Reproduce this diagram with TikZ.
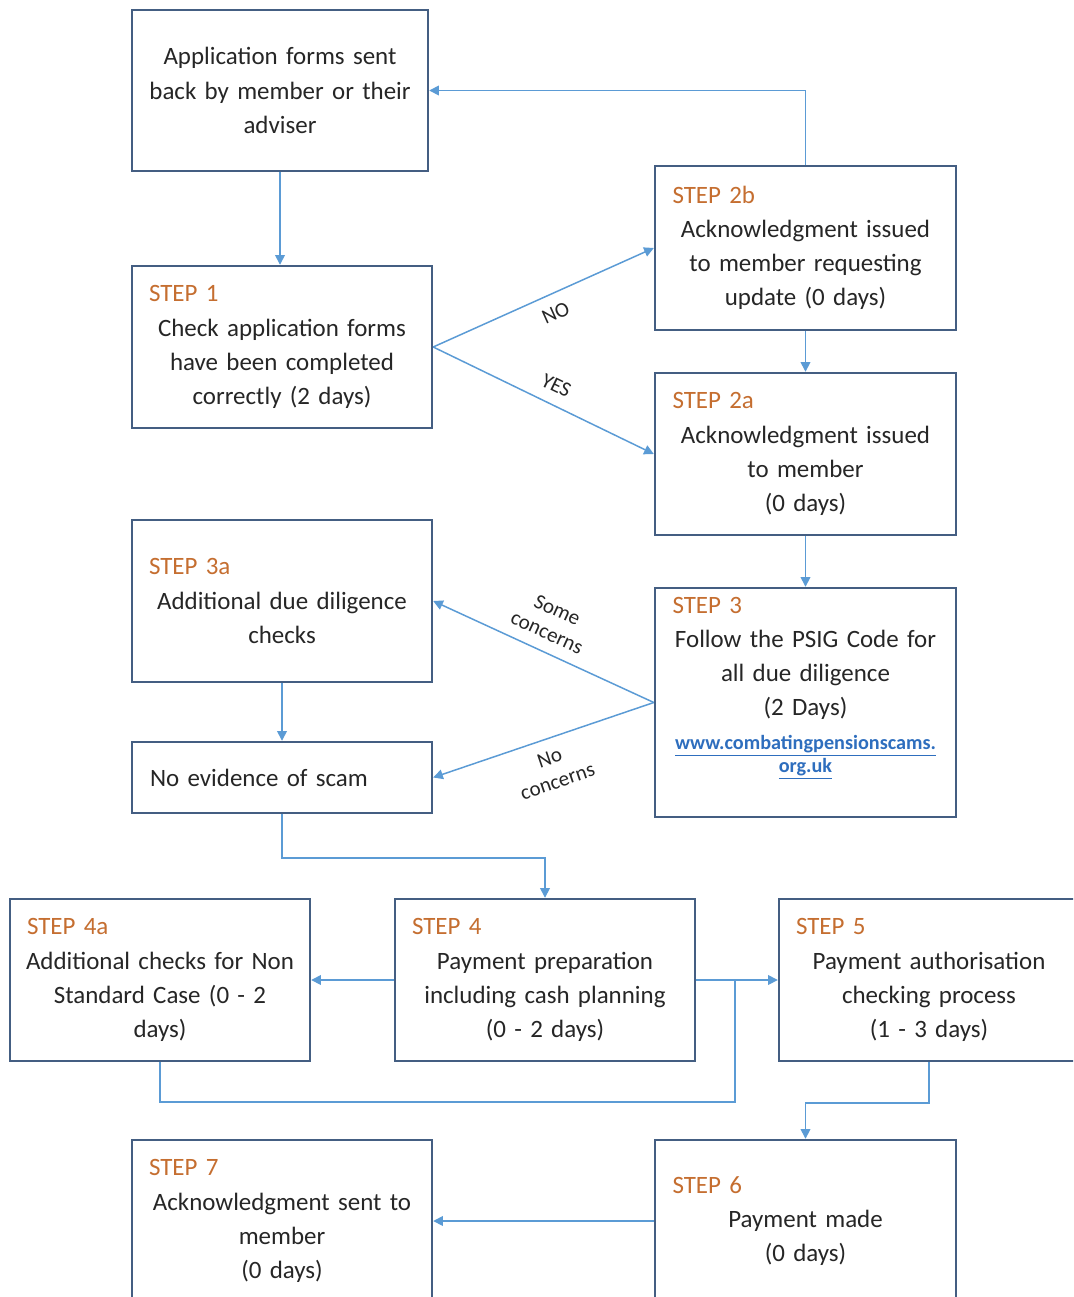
\documentclass[tikz,border=0pt]{standalone}
\usepackage{fontspec}
\setmainfont{Carlito}
\usepackage{xcolor}
\usetikzlibrary{arrows.meta}
\definecolor{boxblue}{RGB}{68,94,130}
\definecolor{arrowblue}{RGB}{91,155,213}
\definecolor{steporange}{RGB}{197,110,48}
\definecolor{linkblue}{RGB}{46,110,190}
\newcommand{\steplab}[1]{\makebox[5.6cm][l]{\hspace*{0.14cm}\color{steporange}#1}}

\begin{document}
\begin{tikzpicture}[x=0.02cm, y=-0.02cm,
  stepbox/.style={draw=boxblue, line width=1.4pt, fill=white, rectangle, minimum width=6cm, minimum height=3.24cm, text width=5.6cm, align=center, inner sep=0pt, font=\fontsize{14.2}{19.4}\selectfont, text=black!85},
  flow/.style={draw=arrowblue, line width=0.85pt, -{Triangle[length=5.5pt,width=5.5pt]}},
  lab/.style={font=\fontsize{12}{14}\selectfont, text=black!85, align=center, inner sep=6.5pt}]
\useasboundingbox (0,0) rectangle (1073,1297);
\clip (0,0) rectangle (1073,1297);
\node[stepbox, minimum width=5.92cm, minimum height=3.22cm] (app) at (280,90.5) {Application forms sent\\back by member or their\\adviser};
\node[stepbox] (step1) at (282,347) {\steplab{STEP 1}\\Check application forms\\have been completed\\correctly (2 days)};
\node[stepbox, minimum width=6.02cm, minimum height=3.28cm] (step2b) at (805.5,248) {\steplab{STEP 2b}\\Acknowledgment issued\\to member requesting\\update (0 days)};
\node[stepbox, minimum width=6.02cm] (step2a) at (805.5,454) {\steplab{STEP 2a}\\Acknowledgment issued\\to member\\(0 days)};
\node[stepbox] (step3a) at (282,601) {\steplab{STEP 3a}\\Additional due diligence\\checks};
\node[stepbox, minimum height=1.42cm, align=left] (noscam) at (282,777.5) {\hspace*{0.16cm}No evidence of scam};
\node[stepbox, minimum width=6.02cm, minimum height=4.58cm] (step3) at (805.5,702.5) {\steplab{STEP 3}\\Follow the PSIG Code for\\all due diligence\\(2 Days)\\[6pt]{\fontsize{11.5}{13}\selectfont\bfseries\color{linkblue}\underline{www.combatingpensionscams.}\\[-6pt]\underline{org.uk}}\par\vspace{16pt}};
\node[stepbox] (step4a) at (160,980) {\steplab{STEP 4a}\\Additional checks for Non\\Standard Case (0 - 2\\days)};
\node[stepbox] (step4) at (545,980) {\steplab{STEP 4}\\Payment preparation\\including cash planning\\(0 - 2 days)};
\node[stepbox] (step5) at (929,980) {\steplab{STEP 5}\\Payment authorisation\\checking process\\(1 - 3 days)};
\node[stepbox, minimum width=6.02cm] (step6) at (805.5,1221) {\steplab{STEP 6}\\Payment made\\(0 days)};
\node[stepbox] (step7) at (282,1221) {\steplab{STEP 7}\\Acknowledgment sent to\\member\\(0 days)};
\coordinate (join) at (735,980);
\draw[flow] (app.south) -- (app.south |- step1.north);
\draw[flow] (step2b.north) |- (app.east);
\draw[flow] (step1.east) -- node[lab, sloped, below, pos=0.52] {NO} (step2b.west);
\draw[flow] (step1.east) -- node[lab, sloped, above, pos=0.52] {YES} (step2a.west);
\draw[flow] (step2b) -- (step2a);
\draw[flow] (step2a) -- (step3);
\draw[flow] (step3.west) -- node[lab, sloped, above, pos=0.52] {Some\\concerns} (step3a.east);
\draw[flow] (step3.west) -- node[lab, sloped, below, pos=0.5] {No\\concerns} (noscam.east);
\draw[flow] (step3a) -- (noscam);
\draw[flow] (noscam.south) -- ++(0,44) -| (step4.north);
\draw[flow] (step4) -- (step4a);
\draw[flow] (step4) -- (step5);
\draw[draw=arrowblue, line width=0.85pt] (step4a.south) -- ++(0,40) -| (join);
\draw[flow] (step5.south) -- ++(0,41) -| (step6.north);
\draw[flow] (step6) -- (step7);
\end{tikzpicture}
\end{document}
